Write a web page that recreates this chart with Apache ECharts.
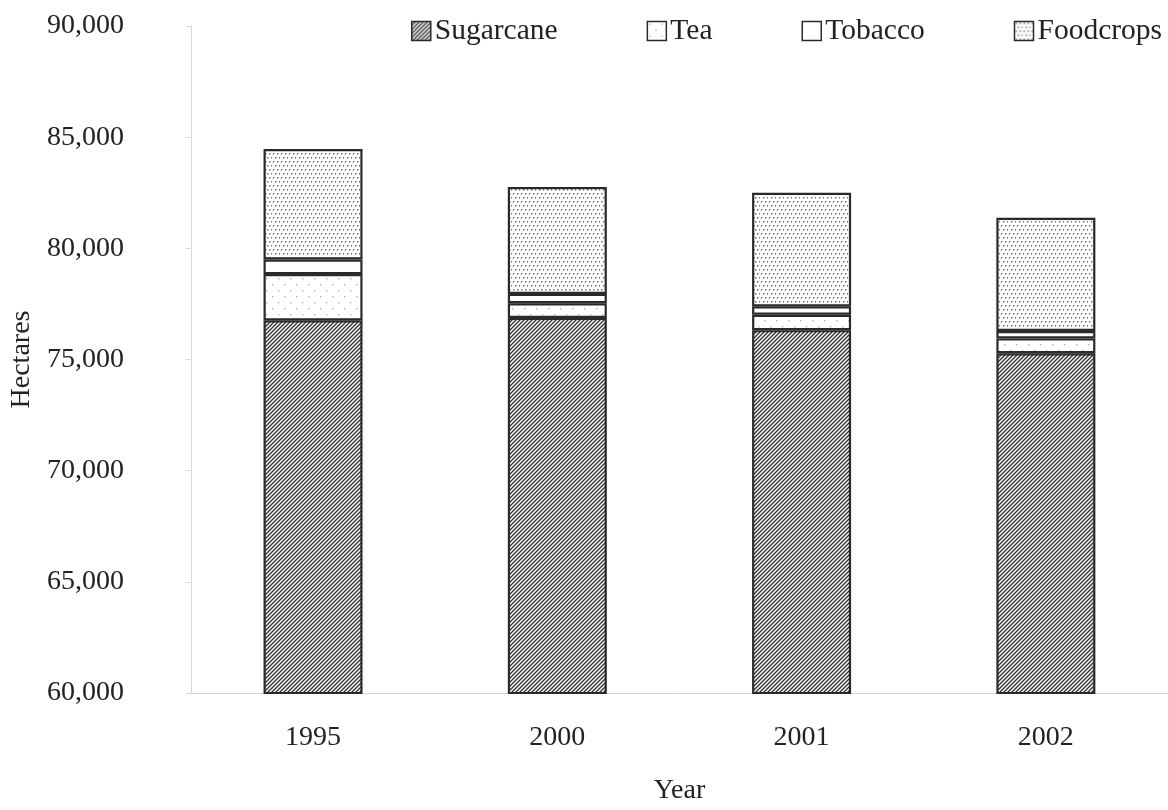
<!DOCTYPE html>
<html>
<head>
<meta charset="utf-8">
<script src="https://cdn.jsdelivr.net/npm/echarts@6/dist/echarts.min.js"></script>
<style>html,body{margin:0;padding:0;background:#fff;overflow:hidden}#c{width:1168px;height:810px}</style>
</head>
<body>
<div id="c"></div>
<script>
const categories = ['1995', '2000', '2001', '2002'];
const sugarcane = [76760, 76870, 76320, 75280];
const tea = [2080, 660, 690, 670];
const tobacco = [660, 420, 380, 330];
const foodcrops = [4970, 4810, 5110, 5090];
const yTicks = [60000, 65000, 70000, 75000, 80000, 85000, 90000];

function makePattern(kind) {
  const c = document.createElement('canvas');
  const ctx = c.getContext('2d');
  if (kind === 'hatch') {
    const s = 4;
    c.width = s; c.height = s;
    ctx.fillStyle = '#fff'; ctx.fillRect(0, 0, s, s);
    ctx.strokeStyle = '#333'; ctx.lineWidth = 1.4;
    ctx.beginPath();
    ctx.moveTo(-1, s + 1); ctx.lineTo(s + 1, -1);
    ctx.moveTo(-1, 1); ctx.lineTo(1, -1);
    ctx.moveTo(s - 1, s + 1); ctx.lineTo(s + 1, s - 1);
    ctx.stroke();
  } else if (kind === 'dense') {
    const s = 8;
    c.width = s; c.height = s;
    ctx.fillStyle = '#fff'; ctx.fillRect(0, 0, s, s);
    ctx.fillStyle = '#707070';
    ctx.fillRect(1, 1, 1.5, 1.5);
    ctx.fillRect(5, 1, 1.5, 1.5);
    ctx.fillRect(3, 5, 1.5, 1.5);
    ctx.fillRect(7, 5, 1.5, 1.5);
  } else if (kind === 'sparse') {
    const s = 12;
    c.width = s; c.height = s;
    ctx.fillStyle = '#fff'; ctx.fillRect(0, 0, s, s);
    ctx.fillStyle = '#b5b5b5';
    ctx.fillRect(2, 2, 1.4, 1.4);
    ctx.fillRect(8, 8, 1.4, 1.4);
  } else {
    c.width = 2; c.height = 2;
    ctx.fillStyle = '#fff'; ctx.fillRect(0, 0, 2, 2);
  }
  return { image: c, repeat: 'repeat' };
}

const FONT = 'Liberation Serif';
const TXT = '#222';
const border = { borderColor: '#2a2a2a', borderWidth: 2.2 };

function barSeries(name, data, kind) {
  return {
    name: name,
    type: 'bar',
    stack: 'total',
    barWidth: 99,
    data: data,
    itemStyle: Object.assign({ color: makePattern(kind) }, border),
    emphasis: { disabled: true }
  };
}

const chart = echarts.init(document.getElementById('c'), null, { renderer: 'canvas', width: 1168, height: 810 });
chart.setOption({
  animation: false,
  backgroundColor: '#fff',
  textStyle: { fontFamily: FONT, color: TXT },
  grid: { left: 190, width: 978, top: 26, height: 673, containLabel: false },
  legend: {
    left: 411,
    top: 16,
    padding: 0,
    itemGap: 89,
    itemWidth: 19,
    itemHeight: 19,
    icon: 'rect',
    itemStyle: { borderColor: '#2a2a2a', borderWidth: 1.5 },
    textStyle: { fontFamily: FONT, fontSize: 29.5, color: TXT, padding: [0, 0, 0, -1] },
    data: ['Sugarcane', 'Tea', 'Tobacco', 'Foodcrops']
  },
  xAxis: {
    type: 'category',
    data: categories,
    name: 'Year',
    nameLocation: 'middle',
    nameGap: 84,
    nameTextStyle: { fontFamily: FONT, fontSize: 28, color: TXT },
    axisLine: { lineStyle: { color: '#d6d6d6', width: 1 } },
    axisTick: { show: false },
    axisLabel: { fontFamily: FONT, fontSize: 28, color: TXT, margin: 31 }
  },
  yAxis: {
    type: 'value',
    min: yTicks[0],
    max: yTicks[yTicks.length - 1],
    interval: 5000,
    name: 'Hectares',
    nameLocation: 'middle',
    nameGap: 144,
    nameTextStyle: { fontFamily: FONT, fontSize: 28, color: TXT },
    splitLine: { show: false },
    axisLine: { show: true, lineStyle: { color: '#d6d6d6', width: 1 } },
    axisTick: { show: true, length: 5, lineStyle: { color: '#d6d6d6' } },
    axisLabel: {
      fontFamily: FONT, fontSize: 28, color: TXT, margin: 67,
      formatter: v => v.toLocaleString('en-US')
    }
  },
  series: [
    barSeries('Sugarcane', sugarcane, 'hatch'),
    barSeries('Tea', tea, 'sparse'),
    barSeries('Tobacco', tobacco, 'white'),
    barSeries('Foodcrops', foodcrops, 'dense')
  ]
});
</script>
</body>
</html>
